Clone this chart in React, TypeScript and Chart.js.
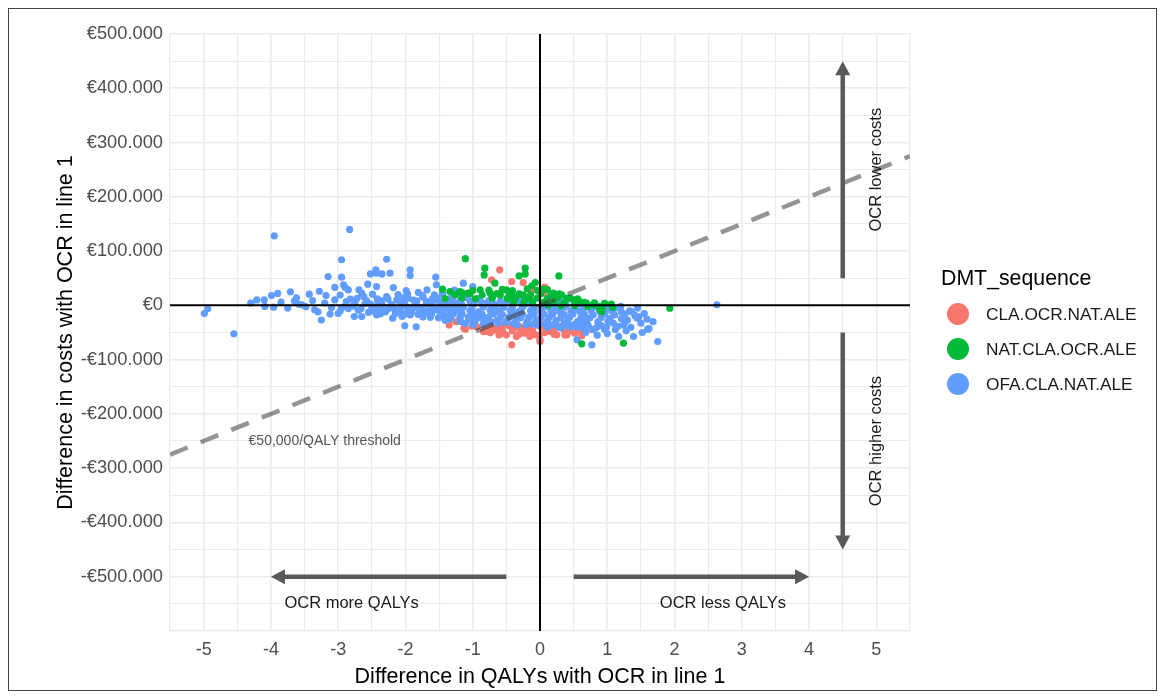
import React, { useEffect, useRef } from "react";
import { Chart, registerables } from "chart.js";

Chart.register(...registerables);

// ---------------- data ----------------
const seriesNames = ["CLA.OCR.NAT.ALE", "NAT.CLA.OCR.ALE", "OFA.CLA.NAT.ALE"];
const seriesColors = ["#F8766D", "#00BA38", "#619CFF"];

// [difference in QALYs, difference in costs (€)]
const claOcrNatAle: [number, number][] = [
  [-0.60, 65400], [-0.42, 43800], [-0.72, 47000], [-0.12, 28500], [0.07, 33500], [0.05, 22500], [-0.25, 42000],
  [-1.13, -42000], [-0.97, -37700], [-0.84, -35900], [-0.72, -39000], [-0.77, -48200], [-0.62, -42000],
  [-0.55, -35900], [-0.42, -72700], [-0.30, -42000], [-0.22, -51200], [-0.15, -45100], [-0.07, -54300],
  [0.0, -66600], [0.05, -48200], [0.25, -54300], [0.40, -54300], [-1.11, -43800], [-0.94, -39000],
  [-0.84, -48200], [-0.79, -42000], [-0.74, -50100], [-0.67, -45100], [-0.59, -52500], [-0.50, -54300],
  [-0.40, -43800], [-0.35, -57400], [-0.27, -48200], [-0.20, -40100], [-0.15, -57400], [0.0, -63500],
  [0.07, -50100], [0.15, -48200], [0.37, -54300], [0.52, -51200],
  [-1.01, -38500], [-0.81, -37500], [-0.61, -38800], [-0.46, -37200], [-0.31, -38600], [-0.16, -37400],
  [0.01, -38900], [0.16, -37300], [0.31, -39200], [0.46, -38100],
  [-0.71, -46500], [-0.56, -45200], [-0.41, -46800], [-0.26, -45600], [-0.11, -47000], [0.04, -45400],
  [0.21, -46300], [0.36, -45100], [0.49, -47200], [0.61, -44800],
  [-0.61, -54500], [-0.31, -53500], [-0.01, -55500], [0.21, -53200], [0.41, -49800],
  [-1.35, -36000], [-1.25, -30000], [0.75, -44000], [0.62, -56000],
];

const natClaOcrAle: [number, number][] = [
  [-1.11, 86000], [-0.82, 68500], [-0.83, 56000], [-0.22, 68500], [-0.22, 58000], [-0.67, 40900],
  [-0.31, 54300], [0.28, 54300], [-0.07, 42000], [-0.12, 36000], [-1.45, 29800], [-1.34, 25400],
  [-1.16, 23600], [-1.07, 22500], [-1.00, 27300], [0.05, 29800], [1.24, -69600], [1.93, -5200],
  [0.62, -70900], [0.79, 900], [0.92, -5200], [0.59, 7000], [0.45, 13300], [0.20, 22500], [0.32, 19300],
  [0.40, 13300], [0.50, 10100], [0.69, 4000], [0.89, -8300], [0.92, -11400], [-1.19, 25400],
  [-0.89, 28500], [-0.74, 22500], [-0.59, 19300], [-0.50, 28500], [-0.40, 16200], [-0.25, 19300],
  [-0.76, 28000], [-0.56, 29500], [-0.41, 27000], [-0.19, 30500], [-0.04, 27500], [0.11, 29000],
  [-1.26, 19500], [-1.04, 21000], [-0.86, 19000], [-0.64, 21500], [-0.46, 19800], [-0.31, 21200],
  [-0.14, 19400], [0.01, 20800], [0.16, 19200], [0.29, 21000],
  [-1.41, 12500], [-1.16, 13800], [-0.96, 12200], [-0.71, 13600], [-0.49, 12400], [-0.36, 14000],
  [-0.19, 12800], [-0.04, 13500], [0.11, 12600], [0.26, 14200], [0.41, 12900], [0.56, 11800],
  [-0.39, 6200], [-0.24, 5500], [-0.11, 6800], [0.06, 5800], [0.21, 6500], [0.36, 5200], [0.51, 6900],
  [0.66, 5600], [0.81, 4800], [0.96, 3500], [1.06, 2500],
  [0.12, 500], [0.31, -800], [0.52, -300], [0.71, -1500], [0.88, -2500], [1.08, -3800],
];

const ofaClaNatAle: [number, number][] = [
  [-4.99, -15000], [-4.94, -6400], [-4.55, -52500], [-4.21, 10000], [-4.10, 10000], [-4.09, -2000],
  [-3.99, 18000], [-3.96, -3300], [-3.95, 128000], [-3.71, 25000], [-3.59, 2000], [-3.54, 1000],
  [-3.43, 20600], [-3.25, -27000], [-3.18, 18000], [-3.15, 53000], [-3.05, 33000], [-2.95, 84000],
  [-2.95, 52000], [-2.92, 38000], [-2.90, 33500], [-2.97, 19000], [-2.97, -10000], [-2.83, 140000],
  [-2.85, 28500], [-2.82, 11400], [-2.75, 6000], [-2.76, -20600], [-2.65, -20600], [-2.69, 28500],
  [-2.65, 22500], [-2.62, 16000], [-2.56, 39000], [-2.52, 58000], [-2.44, 65400], [-2.43, 59300],
  [-2.35, 58000], [-2.28, 85000], [-2.23, 59300], [-2.49, 20600], [-2.42, 12000], [-2.43, 34600],
  [-2.39, -8300], [-2.43, -17500], [-2.28, 16200], [-2.28, -8300], [-2.19, -23600], [-2.18, 32800],
  [-2.13, 10100], [-2.01, -37700], [-1.84, -39600], [-1.93, -17500], [-1.96, -4100], [-1.93, 65400],
  [-1.93, 54900], [-1.99, 27300], [-1.96, 13300], [-1.83, 8300], [-1.68, 28500], [-1.55, 52000],
  [-1.54, 37800], [-1.60, 7000], [-1.41, -5200], [-1.14, 40900], [-1.00, 34600], [-0.99, -35900],
  [-1.16, -14400],
  [-3.35, -8000], [-3.10, -4000], [-3.00, -15000], [-2.90, -2000], [-2.70, -9000], [-2.60, 3000],
  [-2.55, -13000], [-2.50, -3000], [-2.35, 2000], [-2.30, -12000], [-2.20, -2000], [-3.65, 8000],
  [-3.30, -12000], [-2.15, -15000], [-3.20, 4000], [-2.85, -6000],
  [-1.75, 18000], [-1.45, 22000], [-1.30, 14000], [-1.60, 12000], [-1.20, 24000],
  [-3.85, 6000], [-3.75, -5000], [-3.62, 14000], [-3.48, -2500], [-3.38, 9000], [-3.28, 26000],
  [-3.12, -16000], [-3.05, 10000], [-4.30, 4000], [-3.90, 22000],
  [1.11, -5200], [1.33, -10100], [1.47, -21200], [1.59, -25400], [1.60, -43800], [1.62, -42700],
  [1.17, -57400], [1.39, -57400], [1.75, -66600], [1.04, -28500], [1.09, -32800], [0.89, -35900],
  [0.79, -45100], [0.55, -63500], [0.77, -72700], [2.63, 1000],
  [-2.95, -4500], [-2.88, 7000], [-2.78, -1500], [-2.72, 13000], [-2.66, -6000], [-2.58, 9000],
  [-2.47, -11000], [-2.41, 5500], [-2.37, -15500], [-2.26, 11500], [-2.16, -6500], [-2.11, 20000],
  [-2.05, -20500], [-1.97, 21000], [-1.91, -12500], [-1.86, -1000], [-1.81, 24000], [-1.71, -14000],
  [-1.69, 2500], [-1.63, -22000], [-1.57, 19500], [-1.53, -8000], [-1.48, 4500], [-1.42, -19500],
  [-1.38, 10000], [-1.33, -25000], [-1.27, 28000], [-1.24, -7000], [-1.22, 5000], [-1.17, -30000],
  [-1.09, 18000], [-1.06, -26000], [-0.97, -30500], [-0.95, 10500], [-0.91, -19000], [-0.82, -25000],
  [-0.79, 3500], [-0.73, -31000], [-0.66, -1500], [-0.62, -33000], [-0.51, -31500], [-0.48, 4500],
  [-0.34, -36000], [-0.21, -35500], [-0.19, 3800], [-0.04, -36500], [0.03, -1000], [0.14, -36000],
  [0.26, -38500], [0.41, -37000], [0.56, -40500], [0.64, -34000], [0.72, -39000], [0.84, -41000],
  [0.99, -40000], [1.12, -44500], [1.24, -36500], [1.30, -27000], [1.35, -40500], [1.50, -33000],
  [1.55, -15000], [1.68, -30000], [1.45, -5000], [1.20, -2000], [0.95, -1500], [1.28, -47000],
  [1.52, -50000], [0.68, -50000], [0.85, -55000], [1.00, -52000],
  [-2.02, 14500], [-1.74, 15500], [-1.52, 13000], [-1.31, 16500], [-1.12, 14000], [-0.93, 12500],
  [-0.71, 15000], [-0.47, 11500], [-0.28, 13500],
  [-2.36, 8500], [-2.08, 7000], [-1.88, 9500], [-1.69, 7500], [-1.51, 8800], [-1.36, 6500], [-1.18, 9200],
  [-1.04, 7800], [-0.88, 6800], [-0.76, 9000], [-0.59, 7200], [-0.44, 8400], [-0.29, 6600], [-0.14, 8900],
  [0.09, 7400], [0.31, 6200],
  [-2.52, 2500], [-2.21, 1500], [-2.01, 3000], [-1.84, 1200], [-1.66, 2800], [-1.44, 1800], [-1.29, 2600],
  [-1.16, 900], [-0.99, 2300], [-0.86, 1400], [-0.69, 2900], [-0.56, 1100], [-0.41, 2400], [-0.24, 600],
  [-0.11, 2100], [0.06, 1300], [0.21, 2700], [0.39, 800], [0.61, 1900], [0.82, -500],
  [-2.46, -3500], [-2.24, -4800], [-2.06, -3200], [-1.89, -5100], [-1.76, -3900], [-1.59, -4600],
  [-1.46, -3300], [-1.31, -4900], [-1.14, -3700], [-1.01, -4400], [-0.84, -3100], [-0.71, -5000],
  [-0.54, -3800], [-0.41, -4600], [-0.26, -3400], [-0.09, -5200], [0.06, -3600], [0.21, -4700],
  [0.36, -3300], [0.51, -5400], [0.66, -3900], [0.86, -4500], [1.01, -6000],
  [-2.31, -9500], [-2.09, -11000], [-1.96, -9200], [-1.79, -10800], [-1.66, -9700], [-1.49, -11200],
  [-1.34, -9400], [-1.21, -10600], [-1.04, -9900], [-0.91, -11400], [-0.74, -9300], [-0.61, -10700],
  [-0.44, -9600], [-0.31, -11100], [-0.14, -9800], [0.01, -10500], [0.16, -9400], [0.29, -11300],
  [0.46, -9900], [0.59, -10800], [0.76, -9600], [0.89, -11500], [1.06, -10200], [1.21, -12000], [1.36, -11600],
  [-2.01, -15500], [-1.81, -16800], [-1.61, -15200], [-1.44, -16600], [-1.29, -15800], [-1.16, -17000],
  [-0.99, -15400], [-0.86, -16500], [-0.69, -15600], [-0.56, -16900], [-0.39, -15300], [-0.26, -16700],
  [-0.09, -15700], [0.06, -16400], [0.19, -15500], [0.36, -17100], [0.49, -15900], [0.66, -16600],
  [0.79, -17300], [0.96, -16100], [1.11, -17800], [1.26, -17200], [1.41, -18500],
  [-1.74, -21500], [-1.51, -22800], [-1.36, -21300], [-1.19, -22600], [-1.06, -21700], [-0.89, -23000],
  [-0.76, -21400], [-0.59, -22500], [-0.46, -21800], [-0.29, -22900], [-0.16, -21600], [0.01, -22400],
  [0.14, -21900], [0.31, -23100], [0.44, -22000], [0.61, -22700], [0.74, -23300], [0.91, -22200],
  [1.04, -23800], [1.21, -24500], [1.44, -23500],
  [-1.41, -27500], [-1.19, -28600], [-0.99, -27300], [-0.81, -28900], [-0.64, -27600], [-0.49, -28400],
  [-0.36, -27800], [-0.19, -29000], [-0.06, -27400], [0.11, -28700], [0.24, -27700], [0.41, -28800],
  [0.56, -29400], [0.69, -28100], [0.86, -30200], [1.01, -29500], [1.26, -31000],
  [-1.11, -33500], [-0.84, -34200], [-0.39, -33600], [-0.11, -34400], [0.06, -33900], [0.21, -34800],
  [0.36, -33700], [0.51, -35200], [0.71, -36000], [0.91, -37500], [1.16, -38500],
  [0.11, -40500], [0.31, -41500], [0.46, -39800], [0.66, -42500], [0.96, -44000],
];

// €50,000/QALY willingness-to-pay threshold line
const thresholdQaly = [-5.5, 5.5];
const thresholdCost = [-275000, 275000];

// axis / legend texts
const xTitle = "Difference in QALYs with OCR in line 1";
const yTitle = "Difference in costs with OCR in line 1";
const legendTitle = "DMT_sequence";

// annotation arrows (data coordinates: from -> to, arrowhead at "to")
const arrowFromX = [-0.5, 0.5, 4.5, 4.5];
const arrowFromY = [-500000, -500000, 50000, -50000];
const arrowToX = [-4, 4, 4.5, 4.5];
const arrowToY = [-500000, -500000, 450000, -450000];

// annotation texts (data coordinates)
const noteText = ["OCR more QALYs", "OCR less QALYs", "OCR lower costs", "OCR higher costs"];
const noteX = [-2.8, 2.72, 5, 5];
const noteY = [-550000, -550000, 250000, -250000];
const noteVertical = [false, false, true, true];
const thresholdLabel = "€50,000/QALY threshold";
const thresholdLabelX = -3.2;
const thresholdLabelY = -250000;

const FONT = "'Liberation Sans', Arial, Helvetica, sans-serif";

function formatEuro(v: number): string {
  if (v === 0) return "€0";
  const sign = v < 0 ? "-" : "";
  return sign + "€" + Math.abs(v / 1000) + ".000";
}

const annotationPlugin = {
  id: "ceAnnotations",
  afterDatasetsDraw(chart: any) {
    const { ctx, chartArea, scales } = chart;
    const xs = scales.x;
    const ys = scales.y;
    ctx.save();
    // zero reference lines
    ctx.strokeStyle = "#000000";
    ctx.lineWidth = 2;
    const x0 = xs.getPixelForValue(0);
    const y0 = ys.getPixelForValue(0);
    ctx.beginPath();
    ctx.moveTo(chartArea.left, y0);
    ctx.lineTo(chartArea.right, y0);
    ctx.moveTo(x0, chartArea.top);
    ctx.lineTo(x0, chartArea.bottom);
    ctx.stroke();

    // arrows
    const head = 14;
    const half = 7.5;
    ctx.strokeStyle = "#595959";
    ctx.fillStyle = "#595959";
    ctx.lineWidth = 4.5;
    for (let i = 0; i < arrowFromX.length; i++) {
      const ax = xs.getPixelForValue(arrowFromX[i]);
      const ay = ys.getPixelForValue(arrowFromY[i]);
      const bx = xs.getPixelForValue(arrowToX[i]);
      const by = ys.getPixelForValue(arrowToY[i]);
      const len = Math.hypot(bx - ax, by - ay);
      const ux = (bx - ax) / len;
      const uy = (by - ay) / len;
      const baseX = bx - ux * head;
      const baseY = by - uy * head;
      ctx.beginPath();
      ctx.moveTo(ax, ay);
      ctx.lineTo(baseX + ux, baseY + uy);
      ctx.stroke();
      ctx.beginPath();
      ctx.moveTo(bx, by);
      ctx.lineTo(baseX - uy * half, baseY + ux * half);
      ctx.lineTo(baseX + uy * half, baseY - ux * half);
      ctx.closePath();
      ctx.fill();
    }

    // texts
    ctx.fillStyle = "#1a1a1a";
    ctx.font = `16.5px ${FONT}`;
    ctx.textAlign = "center";
    ctx.textBaseline = "middle";
    for (let i = 0; i < noteText.length; i++) {
      const px = xs.getPixelForValue(noteX[i]);
      const py = ys.getPixelForValue(noteY[i]);
      ctx.save();
      ctx.translate(px, py);
      if (noteVertical[i]) ctx.rotate(-Math.PI / 2);
      ctx.fillText(noteText[i], 0, 0);
      ctx.restore();
    }
    ctx.fillStyle = "#555555";
    ctx.font = `14px ${FONT}`;
    ctx.fillText(
      thresholdLabel,
      xs.getPixelForValue(thresholdLabelX),
      ys.getPixelForValue(thresholdLabelY)
    );
    ctx.restore();
  },
};

export default function App() {
  const canvasRef = useRef<HTMLCanvasElement | null>(null);

  useEffect(() => {
    if (!canvasRef.current) return;
    Chart.defaults.font.family = FONT;
    const toPts = (arr: [number, number][]) => arr.map((p) => ({ x: p[0], y: p[1] }));
    const seriesData = [claOcrNatAle, natClaOcrAle, ofaClaNatAle];
    // red drawn first, then blue, then green on top
    const drawOrder = [4, 2, 3];
    const datasets: any[] = seriesData.map((arr, i) => ({
      type: "scatter",
      label: seriesNames[i],
      data: toPts(arr),
      backgroundColor: seriesColors[i],
      borderWidth: 0,
      pointRadius: 3.6,
      pointHoverRadius: 3.6,
      order: drawOrder[i],
    }));
    datasets.push({
      type: "line",
      label: "threshold",
      data: thresholdQaly.map((q, i) => ({ x: q, y: thresholdCost[i] })),
      borderColor: "rgba(60,60,60,0.55)",
      borderWidth: 4.5,
      borderDash: [19, 14],
      pointRadius: 0,
      fill: false,
      order: 1,
    });

    const gridColor = "#ebebeb";
    const chart = new Chart(canvasRef.current, {
      type: "scatter",
      data: { datasets },
      options: {
        responsive: false,
        animation: false,
        maintainAspectRatio: false,
        layout: { padding: { left: 0, right: 246, top: 25, bottom: 0 } },
        plugins: { legend: { display: false }, tooltip: { enabled: false } },
        scales: {
          x: {
            type: "linear",
            min: -5.5,
            max: 5.5,
            border: { display: false },
            grid: {
              drawTicks: false,
              color: (c: any) => (c.tick && c.tick.value === 0 ? "rgba(0,0,0,0)" : gridColor),
              lineWidth: (c: any) => (c.tick && Number.isInteger(c.tick.value) ? 1.6 : 1.1),
            },
            ticks: {
              stepSize: 0.5,
              autoSkip: false,
              maxRotation: 0,
              padding: 8,
              color: "#4d4d4d",
              font: { size: 18 },
              callback: (v: any) => (Number.isInteger(Number(v)) ? String(v) : ""),
            },
            title: {
              display: true,
              text: xTitle,
              color: "#000000",
              font: { size: 21.5 },
              padding: { top: 0, bottom: 0 },
            },
            afterFit: (s: any) => {
              s.height = 59;
            },
          },
          y: {
            type: "linear",
            min: -600000,
            max: 500000,
            border: { display: false },
            grid: {
              drawTicks: false,
              color: (c: any) => (c.tick && c.tick.value === 0 ? "rgba(0,0,0,0)" : gridColor),
              lineWidth: (c: any) => (c.tick && c.tick.value % 100000 === 0 ? 1.6 : 1.1),
            },
            ticks: {
              stepSize: 50000,
              autoSkip: false,
              padding: 7,
              color: "#4d4d4d",
              font: { size: 18.3 },
              callback: (v: any) => {
                const n = Number(v);
                if (n % 100000 !== 0 || n < -500000) return "";
                return formatEuro(n);
              },
            },
            title: {
              display: true,
              text: yTitle,
              color: "#000000",
              font: { size: 21.5 },
              padding: { top: 44, bottom: 0 },
            },
            afterFit: (s: any) => {
              s.width = 161;
            },
          },
        },
      },
      plugins: [annotationPlugin],
    });
    return () => chart.destroy();
  }, []);

  const legendTop = [305, 340, 375];
  return (
    <div
      style={{
        position: "relative",
        width: 1147,
        height: 681,
        border: "1px solid #444",
        background: "#fff",
        fontFamily: FONT,
      }}
    >
      <canvas ref={canvasRef} width={1147} height={681} style={{ position: "absolute", left: 0, top: 0 }} />
      <div
        style={{
          position: "absolute",
          left: 932,
          top: 256,
          fontSize: 21.3,
          lineHeight: "26px",
          color: "#000",
          whiteSpace: "nowrap",
        }}
      >
        {legendTitle}
      </div>
      {seriesNames.map((name, i) => (
        <div
          key={name}
          style={{
            position: "absolute",
            left: 938,
            top: legendTop[i] - 11,
            height: 22,
            display: "flex",
            alignItems: "center",
            whiteSpace: "nowrap",
          }}
        >
          <span
            style={{
              display: "inline-block",
              width: 22,
              height: 22,
              borderRadius: "50%",
              background: seriesColors[i],
            }}
          />
          <span style={{ marginLeft: 17, fontSize: 17.3, color: "#1a1a1a" }}>{name}</span>
        </div>
      ))}
    </div>
  );
}
